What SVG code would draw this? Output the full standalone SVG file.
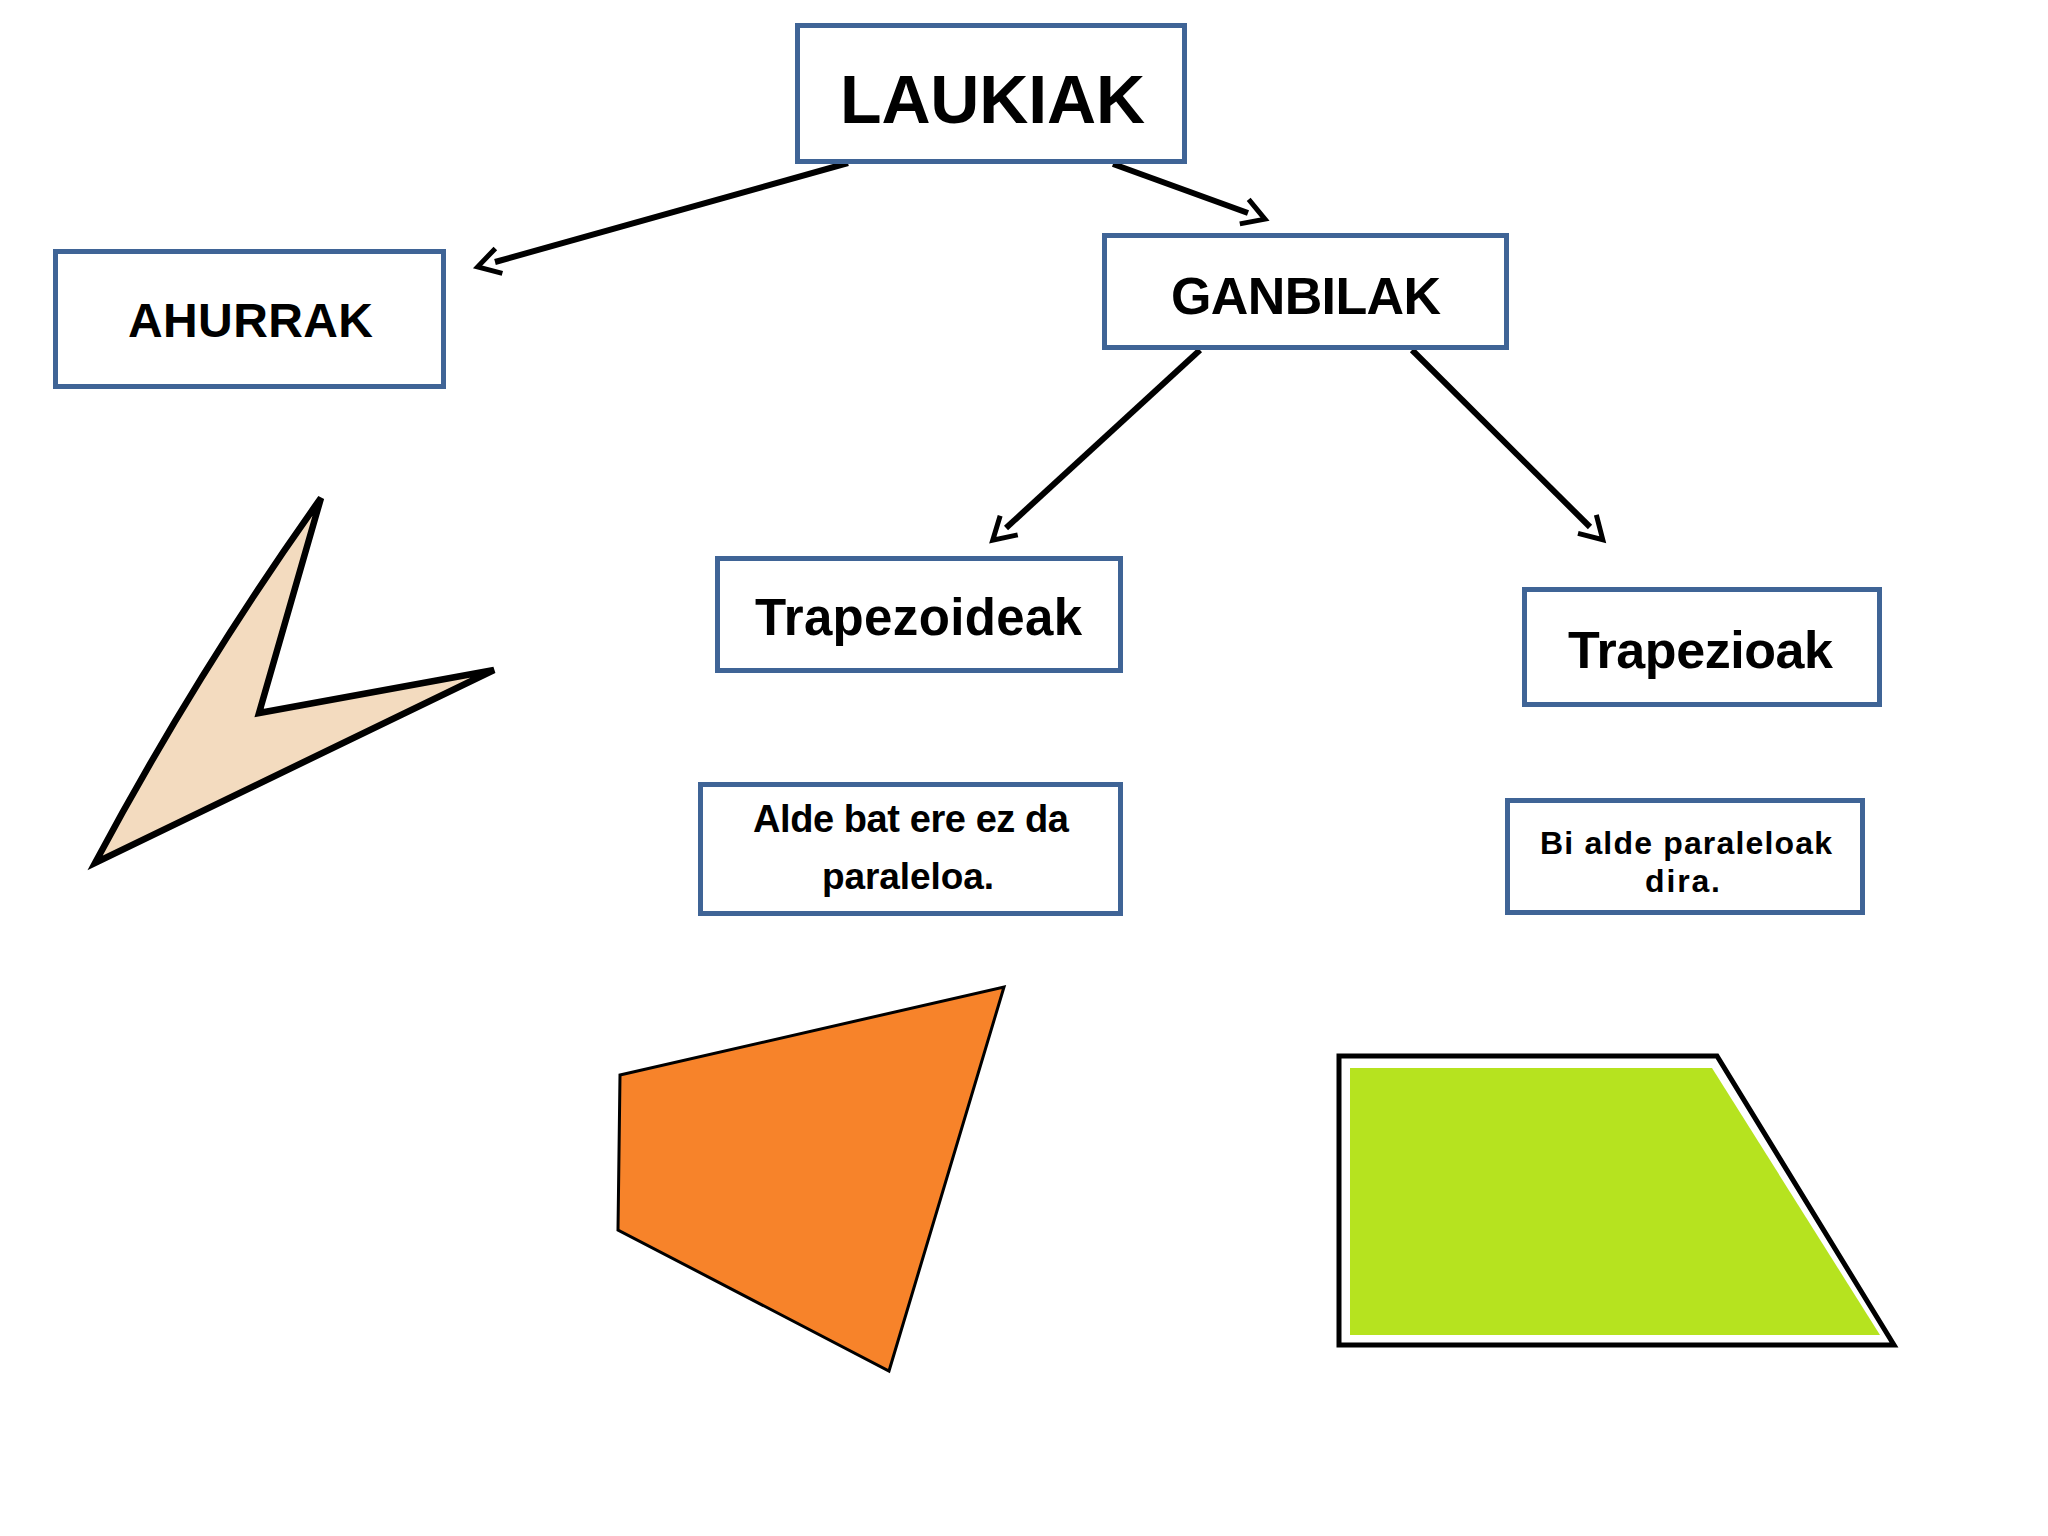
<svg xmlns="http://www.w3.org/2000/svg" width="2048" height="1536" viewBox="0 0 2048 1536">
<style>
.box{fill:#FFFFFF;stroke:#3F6496;stroke-width:5}
.lbl{font-family:"Liberation Sans","Noto Sans",sans-serif;font-weight:bold;fill:#000}
.con{fill:none;stroke:#000;stroke-width:6;marker-end:url(#arr)}
</style>
<defs>
<marker id="arr" markerUnits="userSpaceOnUse" markerWidth="60" markerHeight="60" viewBox="-40 -30 60 60" refX="-18" refY="0" orient="auto" overflow="visible">
<path d="M -22 -13 L 0 0 L -22 13" fill="none" stroke="#000" stroke-width="5"/>
</marker>
</defs>
<rect width="2048" height="1536" fill="#FFFFFF"/>
<g id="connectors">
<path class="con" d="M 848 163 L 495 262"/>
<path class="con" d="M 1113 164 L 1248 213"/>
<path class="con" d="M 1200 350 L 1006 528"/>
<path class="con" d="M 1412 350 L 1590 527"/>
</g>
<g id="node-laukiak">
<rect class="box" x="797.5" y="25.5" width="387" height="136"/>
<text class="lbl" x="840" y="123" font-size="68" textLength="305">LAUKIAK</text>
</g>
<g id="node-ahurrak">
<rect class="box" x="55.5" y="251.5" width="388" height="135"/>
<text class="lbl" x="128" y="337" font-size="48" textLength="245">AHURRAK</text>
</g>
<g id="node-ganbilak">
<rect class="box" x="1104.5" y="235.5" width="402" height="112"/>
<text class="lbl" x="1171" y="314" font-size="52" textLength="270">GANBILAK</text>
</g>
<g id="node-trapezoideak">
<rect class="box" x="717.5" y="558.5" width="403" height="112"/>
<text class="lbl" x="755" y="635" font-size="51" textLength="327">Trapezoideak</text>
</g>
<g id="node-trapezioak">
<rect class="box" x="1524.5" y="589.5" width="355" height="115"/>
<text class="lbl" x="1568" y="668" font-size="52" textLength="265">Trapezioak</text>
</g>
<g id="node-alde">
<rect class="box" x="700.5" y="784.5" width="420" height="129"/>
<text class="lbl" x="753" y="832" font-size="38" textLength="316">Alde bat ere ez da</text>
<text class="lbl" x="822" y="889" font-size="37" textLength="172">paraleloa.</text>
</g>
<g id="node-bi">
<rect class="box" x="1507.5" y="800.5" width="355" height="112"/>
<text class="lbl" x="1540" y="854" font-size="32" textLength="292">Bi alde paraleloak</text>
<text class="lbl" x="1645" y="892" font-size="32" textLength="75">dira.</text>
</g>
<g id="shape-ahurra">
<path d="M 321 498 L 259 713 L 494 670 L 95 863 Q 197 672 321 498 Z" fill="#F3DBBF" stroke="#000" stroke-width="6.5" stroke-linejoin="miter"/>
</g>
<g id="shape-trapezoidea">
<polygon points="620,1075 1004,987 889,1371 618,1230" fill="#F7832A" stroke="#000" stroke-width="3"/>
</g>
<g id="shape-trapezioa">
<polygon points="1339,1056 1717,1056 1894,1345 1339,1345" fill="#FFFFFF" stroke="#000" stroke-width="5"/>
<polygon points="1350,1068 1712,1068 1880,1335 1350,1335" fill="#B6E31F"/>
</g>
</svg>
